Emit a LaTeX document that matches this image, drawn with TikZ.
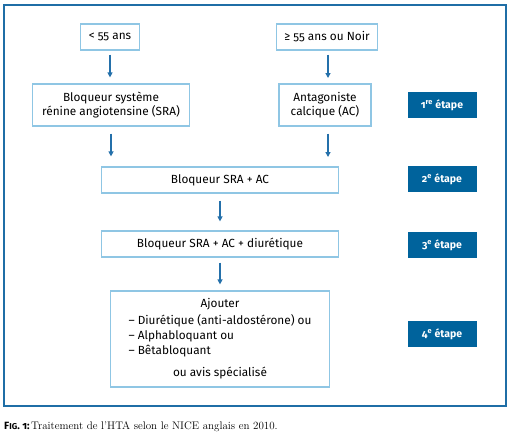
\documentclass[tikz,border=0pt]{standalone}
\usepackage{fontspec}
\setsansfont{Fira Sans}[Numbers=OldStyle]
\usetikzlibrary{arrows.meta}
\definecolor{frameblue}{HTML}{1F6EA6}
\definecolor{boxblue}{HTML}{8FC6E4}
\definecolor{stepblue}{HTML}{00639C}
\definecolor{arrowblue}{HTML}{2470AA}
\begin{document}
\begin{tikzpicture}[x=1pt, y=-1pt,
  box/.style = {draw=boxblue, line width=1.2pt, align=center, inner sep=0pt,
    font=\sffamily\fontsize{11.8}{14}\selectfont},
  stepbadge/.style = {fill=stepblue, text=white, minimum width=69pt, minimum height=26pt,
    inner sep=0pt, font=\sffamily\bfseries\fontsize{10.5}{12}\selectfont},
  flow/.style = {draw=arrowblue, line width=1.2pt, -{Triangle[length=5pt,width=5pt]}}]
  \useasboundingbox (0,0) rectangle (511,440);
  \draw[frameblue, line width=1.4pt] (4,5) rectangle (506,406);
  % boxes
  \node[box, minimum width=59pt, minimum height=26pt] (young) at (110,37) {< 55 ans};
  \node[box, minimum width=101pt, minimum height=26pt] (old) at (327,37) {≥ 55 ans ou Noir};
  \node[box, minimum width=157pt, minimum height=42pt] (sra) at (111,105) {Bloqueur système\\rénine angiotensine (SRA)};
  \node[box, minimum width=92pt, minimum height=42pt] (ac) at (325,105) {Antagoniste\\calcique (AC)};
  \node[box, minimum width=237pt, minimum height=26pt] (sraac) at (220,180) {Bloqueur SRA + AC};
  \node[box, minimum width=237pt, minimum height=26pt] (diur) at (220,244) {Bloqueur SRA + AC + diurétique};
  \node[box, minimum width=219pt, minimum height=96pt, font=\sffamily\fontsize{11.8}{15}\selectfont] (add) at (220,339)
    {Ajouter\\[3pt]\begin{tabular}{@{}l@{}}– Diurétique (anti-aldostérone) ou\\– Alphabloquant ou\\– Bêtabloquant\end{tabular}\\[7pt]ou avis spécialisé};
  % steps
  \node[stepbadge] (s1) at (442,105) {1\textsuperscript{re} étape};
  \node[stepbadge] (s2) at (442,179) {2\textsuperscript{e} étape};
  \node[stepbadge] (s3) at (442,245) {3\textsuperscript{e} étape};
  \node[stepbadge] (s4) at (442,334) {4\textsuperscript{e} étape};
  % arrows
  \draw[flow, shorten <=4pt, shorten >=6pt] (young.south) -- (young.south |- sra.north);
  \draw[flow, shorten <=4pt, shorten >=6pt] (old.south -| 328,0) -- (328,84);
  \draw[flow, shorten <=7pt, shorten >=10pt] (sra.south) -- (sra.south |- sraac.north);
  \draw[flow, shorten <=7pt, shorten >=10pt] (ac.south -| 328,0) -- (328,167);
  \draw[flow, shorten <=7pt, shorten >=9pt] (sraac.south) -- (diur.north);
  \draw[flow, shorten <=5pt, shorten >=6pt] (diur.south) -- (add.north);
  % caption
  \node[anchor=west, inner sep=0pt] (cap) at (4,427)
    {{\sffamily\bfseries\fontsize{10.5}{12}\selectfont F{\fontsize{8.5}{10}\selectfont IG}. 1:}\,\fontsize{11}{13}\selectfont Traitement de l'HTA selon le NICE anglais en \oldstylenums{2010}.};
\end{tikzpicture}
\end{document}
